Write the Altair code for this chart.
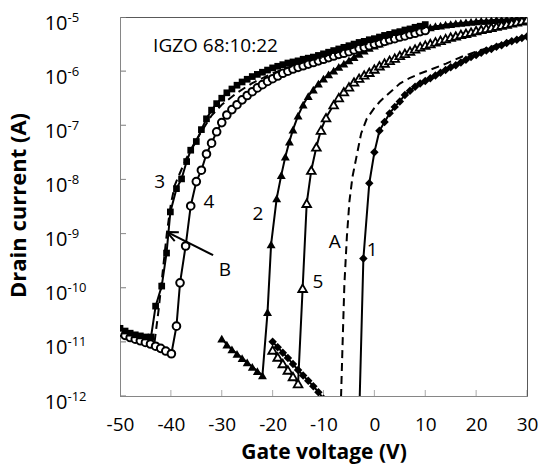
import altair as alt
import pandas as pd

# ---------------- data (gate voltage in V, log10 of drain current in A) ----------------
c1_v = [-20, -19, -18, -17, -16, -15, -14, -13, -12, -11, -10, -9, -8, -7, -6, -5, -4, -3,
        -2.16, -1.0, 0,
        1, 2, 3, 4, 5, 6, 7, 8, 9, 10, 11, 12, 13, 14, 15, 16, 17, 18, 19, 20,
        21, 22, 23, 24, 25, 26, 27, 28, 29, 30]
c1_log = [-11.0, -11.1, -11.2, -11.3, -11.41, -11.52, -11.62, -11.72, -11.82, -11.93, -12.05,
          -12.15, -12.22, -12.28, -12.33, -12.38, -12.42, -12.45,
          -9.46, -8.07, -7.50,
          -7.10, -6.94, -6.78, -6.66, -6.56, -6.44, -6.36, -6.29, -6.23, -6.18,
          -6.13, -6.08, -6.03, -5.98, -5.93, -5.89, -5.84, -5.79, -5.74, -5.70,
          -5.66, -5.62, -5.59, -5.55, -5.52, -5.48, -5.45, -5.42, -5.39, -5.36]

cA_v = [-6.7, -6.3, -5.9, -5.4, -4.9, -4.3, -3.6, -2.6, -1.5, 0, 1, 2, 3.6, 5, 6.9, 8.8,
        10.8, 14.1, 17.3, 20, 25, 30]
cA_log = [-12.5, -11.2, -9.95, -9.05, -8.4, -7.95, -7.62, -7.15, -6.88, -6.68, -6.57, -6.48,
          -6.35, -6.23, -6.13, -6.05, -5.98, -5.86, -5.73, -5.64, -5.49, -5.34]

c2_v = [-30, -29, -28, -27, -26, -25, -24, -23, -22, -21, -20.3, -19.2, -18.3, -17.5, -16.7,
        -16, -15, -14, -13, -12, -11, -10,
        -9, -8, -7, -6, -5, -4, -3, -2, -1, 0, 1, 2, 3, 4, 5, 6, 7, 8, 9, 10,
        11, 12, 13, 14, 15, 16, 17, 18, 19, 20, 21, 22, 23, 24, 25, 26, 27, 28, 29, 30]
c2_log = [-10.94, -11.05, -11.14, -11.22, -11.30, -11.38, -11.46, -11.54, -11.62, -10.45,
          -9.20, -8.35, -7.92, -7.58, -7.30, -7.08, -6.82, -6.62, -6.46, -6.34, -6.23, -6.14,
          -6.06, -5.99, -5.92, -5.86, -5.80, -5.74, -5.68, -5.62, -5.57, -5.53,
          -5.49, -5.45, -5.41, -5.37, -5.34, -5.31, -5.28, -5.26, -5.23, -5.21,
          -5.19, -5.17, -5.16, -5.14, -5.13, -5.12, -5.11, -5.10, -5.09, -5.08,
          -5.07, -5.07, -5.06, -5.05, -5.05, -5.04, -5.04, -5.03, -5.03, -5.02]

c5_v = [-20, -19, -18, -17, -16, -15, -14.1, -13.3, -12.4, -11.4, -10.5, -9.5,
        -8, -7, -6, -5, -4, -3, -2, -1, 0,
        1, 2, 3, 4, 5, 6, 7, 8, 9, 10, 11, 12, 13, 14, 15, 16, 17, 18, 19, 20,
        21, 22, 23, 24, 25, 26, 27, 28, 29, 30]
c5_log = [-11.15, -11.28, -11.40, -11.52, -11.64, -11.77, -10.01, -8.44, -7.83, -7.40, -7.09,
          -6.86, -6.62, -6.49, -6.38, -6.29, -6.20, -6.13, -6.07, -6.02, -5.96,
          -5.90, -5.85, -5.80, -5.76, -5.71, -5.67, -5.63, -5.59, -5.55, -5.52,
          -5.49, -5.46, -5.43, -5.40, -5.37, -5.35, -5.32, -5.30, -5.28, -5.25,
          -5.23, -5.21, -5.19, -5.17, -5.15, -5.13, -5.11, -5.09, -5.07, -5.05]

c3_v = [-50, -49, -48, -47, -46, -45, -43.9, -43.0, -41.8, -40.85, -40.1, -38.9, -37.9,
        -36.9, -36.1, -35, -34, -33, -32, -31, -30, -29, -28, -27, -26, -25, -24, -23,
        -22, -21, -20, -19, -18, -17, -16, -15, -14, -13, -12, -11, -10, -9, -8, -7,
        -6, -5, -4, -3, -2, -1, 0, 1, 2, 3, 4, 5, 6, 7, 8, 9, 10]
c3_log = [-10.75, -10.80, -10.84, -10.87, -10.89, -10.91, -10.91, -10.34, -9.97, -9.36,
          -8.60, -8.17, -7.99, -7.67, -7.46, -7.30, -7.08, -6.88, -6.72, -6.60, -6.50,
          -6.40, -6.33, -6.26, -6.20, -6.15, -6.10, -6.06, -6.02, -5.98, -5.94, -5.91,
          -5.88, -5.85, -5.83, -5.81, -5.78, -5.76, -5.74, -5.71, -5.68, -5.65, -5.62,
          -5.59, -5.56, -5.53, -5.50, -5.47, -5.45, -5.42, -5.40, -5.37, -5.34, -5.32,
          -5.29, -5.27, -5.24, -5.22, -5.19, -5.17, -5.14]

c4_v = [-50, -49, -48, -47, -46, -45, -44, -43, -42, -41, -39.9, -38.9, -38.2, -37.1,
        -36.1, -35.0, -34.0, -33.0, -32.0, -31, -30, -29, -28, -27, -26, -25, -24, -23,
        -22, -21, -20, -19, -18, -17, -16, -15, -14, -13, -12, -11, -10, -9, -8, -7,
        -6, -5, -4, -3, -2, -1, 0, 1, 2, 3, 4, 5, 6, 7, 8, 9, 10]
c4_log = [-10.82, -10.88, -10.92, -10.95, -10.98, -11.01, -11.04, -11.08, -11.12, -11.17,
          -11.22, -10.71, -9.91, -9.23, -8.49, -8.04, -7.83, -7.53, -7.33, -7.12, -6.95,
          -6.81, -6.71, -6.62, -6.53, -6.45, -6.38, -6.31, -6.25, -6.19, -6.14, -6.09,
          -6.04, -6.00, -5.96, -5.93, -5.90, -5.87, -5.84, -5.81, -5.78, -5.75, -5.72,
          -5.69, -5.67, -5.64, -5.61, -5.58, -5.56, -5.53, -5.50, -5.48, -5.45, -5.42,
          -5.40, -5.37, -5.35, -5.32, -5.30, -5.27, -5.25]

cB_v = [-43.2, -42.4, -41.6, -40.8, -40.0, -39.2, -38.3, -37, -35.5, -34, -32, -30, -27,
        -24, -20, -15, -10, -5, 0, 5, 10]
cB_log = [-11.0, -10.4, -9.7, -9.0, -8.45, -8.1, -7.9, -7.62, -7.35, -7.12, -6.82, -6.62,
          -6.40, -6.22, -6.04, -5.87, -5.73, -5.59, -5.45, -5.32, -5.20]

label_text = ["IGZO 68:10:22", "3", "4", "B", "2", "A", "5", "1"]
label_v = [-43.5, -42.2, -32.5, -29.4, -22.9, -7.8, -11.1, -0.45]
label_log = [-5.53, -8.04, -8.41, -9.68, -8.63, -9.15, -9.89, -9.31]

arrow_v = [-31.7, -40.8]
arrow_log = [-9.40, -8.97]

x_tick_values = [-50, -40, -30, -20, -10, 0, 10, 20, 30]
y_tick_values = [1e-12, 1e-11, 1e-10, 1e-9, 1e-8, 1e-7, 1e-6, 1e-5]
y_tick_base = "10"
y_tick_exps = ["-12", "-11", "-10", "-9", "-8", "-7", "-6", "-5"]

# ---------------- chart ----------------
FONT = "Open Sans"
AXIS_GREY = "#868686"

exp_expr = "'" + y_tick_exps[-1] + "'"
for val, lab in reversed(list(zip(y_tick_values[:-1], y_tick_exps[:-1]))):
    exp_expr = f"datum.value < {val * 3:.3e} ? '{lab}' : " + exp_expr

xs = alt.Scale(domain=[-50, 30], nice=False, zero=False)
ys = alt.Scale(type="log", domain=[1e-12, 1e-5], nice=False)

x_axis = alt.Axis(values=x_tick_values, labelExpr="'' + datum.value", title="Gate voltage (V)",
                  ticks=False, tickSize=0, grid=False, domainColor=AXIS_GREY, domainWidth=1,
                  labelFont=FONT, labelFontSize=19, labelColor="black", labelPadding=19,
                  labelFlush=False, labelOverlap=False,
                  titleFont=FONT, titleFontSize=21, titleFontWeight="bold", titleColor="black",
                  titleY=62, titleBaseline="alphabetic")
# main y axis: domain, title and the "10" part of each label
y_axis_main = alt.Axis(values=y_tick_values, labelExpr=f"'{y_tick_base}'", orient="left",
                       title="Drain current (A)",
                       ticks=False, tickSize=0, grid=False, domainColor=AXIS_GREY, domainWidth=1,
                       labelFont=FONT, labelFontSize=20, labelColor="black", labelPadding=53,
                       labelAlign="right", labelBaseline="middle",
                       labelOffset=6, labelFlush=False, labelOverlap=False,
                       titleFont=FONT, titleFontSize=22, titleFontWeight="bold",
                       titleColor="black", titleX=-95, titleY=188,
                       titleBaseline="alphabetic", titleAngle=270)
# second y axis on the same scale: the superscript exponent
y_axis_exp = alt.Axis(values=y_tick_values, labelExpr=exp_expr, orient="left", title=None,
                      domain=False, ticks=False, tickSize=0, grid=False,
                      labelFont=FONT, labelFontSize=13, labelColor="black", labelPadding=53,
                      labelAlign="left", labelBaseline="middle",
                      labelOffset=0, labelFlush=False, labelOverlap=False)


def X(field="V"):
    return alt.X(f"{field}:Q", scale=xs, axis=x_axis)


def Y(field="I", axis=None):
    return alt.Y(f"{field}:Q", scale=ys, axis=axis)


def frame(v, lg):
    return pd.DataFrame({"V": v, "I": [10.0 ** e for e in lg]})


def curve(v, lg, dash=None, point=None):
    df = frame(v, lg)
    kw = dict(color="black", strokeWidth=2, clip=True)
    if dash:
        kw["strokeDash"] = dash
    out = [alt.Chart(df).mark_line(**kw).encode(x=X(), y=Y())]
    if point:
        out.append(alt.Chart(df).mark_point(clip=True, opacity=1, **point).encode(x=X(), y=Y()))
    return out


# inward axis ticks (these layers also carry the two y axes)
tick_df = pd.DataFrame({"I": y_tick_values})
yt = alt.Chart(tick_df).mark_tick(
    orient="horizontal", size=12, thickness=1, color=AXIS_GREY, clip=True
).encode(x=alt.XDatum(-50, scale=xs, axis=x_axis), y=Y(axis=y_axis_main))
yt2 = alt.Chart(tick_df).mark_tick(
    orient="horizontal", size=12, thickness=1, color=AXIS_GREY, clip=True
).encode(x=alt.XDatum(-50, scale=xs, axis=x_axis), y=Y(axis=y_axis_exp))
xt = alt.Chart(pd.DataFrame({"V": x_tick_values})).mark_tick(
    orient="vertical", size=12, thickness=1, color=AXIS_GREY, clip=True
).encode(x=X(), y=alt.YDatum(1e-12, scale=ys, axis=None))

layers = [yt, yt2, xt]
layers += curve(cA_v, cA_log, dash=[8, 5])
layers += curve(c2_v, c2_log, point=dict(shape="triangle-up", filled=True, color="black", size=80))
layers += curve(c5_v, c5_log, point=dict(shape="triangle-up", filled=True, fill="white",
                                         stroke="black", strokeWidth=1.8, size=75))
layers += curve(c1_v, c1_log, point=dict(shape="diamond", filled=True, color="black", size=72))
layers += curve(c4_v, c4_log, point=dict(shape="circle", filled=True, fill="white",
                                         stroke="black", strokeWidth=2, size=58))
layers += curve(cB_v, cB_log, dash=[8, 5])
layers += curve(c3_v, c3_log, point=dict(shape="square", filled=True, color="black", size=45))

# text annotations
lab_df = pd.DataFrame({"t": label_text, "V": label_v, "I": [10.0 ** e for e in label_log]})
layers.append(alt.Chart(lab_df).mark_text(font=FONT, fontSize=19, color="black",
                                          align="center", baseline="middle")
              .encode(x=X(), y=Y(), text="t:N")
              .transform_filter("datum.t != 'IGZO 68:10:22'"))
layers.append(alt.Chart(lab_df).mark_text(font=FONT, fontSize=19, color="black",
                                          align="left", baseline="middle")
              .encode(x=X(), y=Y(), text="t:N")
              .transform_filter("datum.t == 'IGZO 68:10:22'"))

# arrow pointing at curve B
arr = frame(arrow_v, arrow_log)
layers.append(alt.Chart(arr).mark_line(color="black", strokeWidth=2).encode(x=X(), y=Y()))
layers.append(alt.Chart(arr.iloc[[1]]).mark_point(
    shape="M0,0L1.8,-0.8M0,0L1.8,0.8", filled=False, color="black", strokeWidth=2,
    size=150, angle=25, opacity=1
).encode(x=X(), y=Y()))

chart = alt.layer(*layers).resolve_axis(y="independent").properties(
    width=407, height=379,
    autosize=alt.AutoSizeParams(type="none"),
    padding={"left": 120, "top": 17, "right": 12, "bottom": 70},
    background="white",
).configure_view(stroke="#595959", strokeWidth=1)

chart.save("out.html", embed_options={"renderer": "svg", "actions": False})
